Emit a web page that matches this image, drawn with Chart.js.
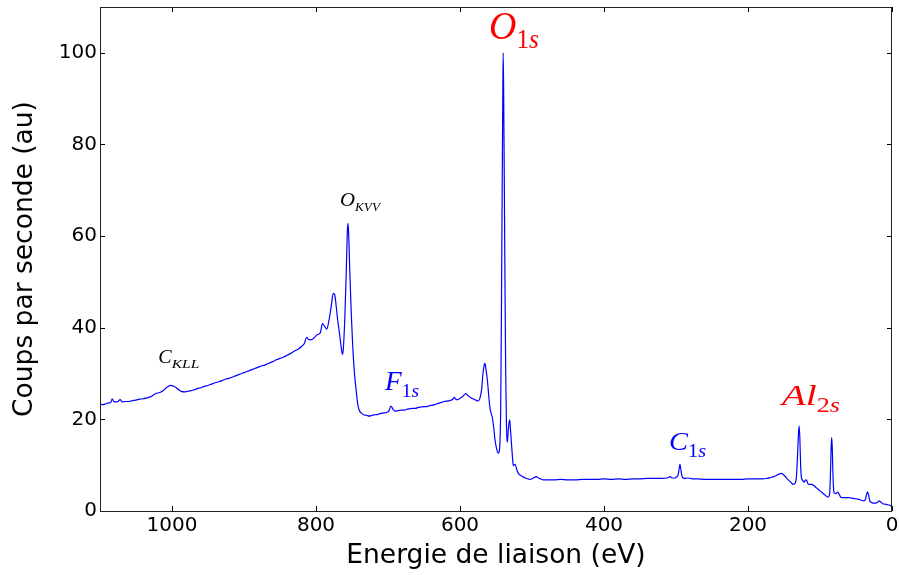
<!DOCTYPE html>
<html><head><meta charset="utf-8">
<script src="https://cdn.jsdelivr.net/npm/chart.js@4.4.0/dist/chart.umd.min.js"></script>
<style>html,body{margin:0;padding:0;background:#fff;overflow:hidden;} #wrap{width:899px;height:575px;}</style>
</head><body><div id="wrap"><canvas id="c" width="899" height="575"></canvas></div>
<script>
// Binding energy (eV) and counts per second (au)
const energy = [1100,1096,1092,1088,1085,1083,1081,1078,1075,1072,1069,1065,1060,1055,1050,1045,1040,1035,1030,1026,1022,1018,1014,1010,1006,1002,999,995,991,987,983,979,975,970,965,960,955,950,945,940,935,930,925,920,915,910,905,900,895,890,885,880,875,870,865,860,855,850,845,840,835,830,825,820,816,813,810,806,802,798,794,791,788,785,782,779,776,774,772,770,768,766,764,763,762,760,758,756.5,755.5,754.5,753,751,749,747.5,746,744,742,740,737,734,730,726,722,718,714,710,706,702,698.5,696,693,690,686,682,678,674,670,666,662,658,654,650,646,642,638,634,630,626,622,618,614,610,608,606,603,600,596,592,589,586,582,578,575,572,570,568.5,566.5,565.3,564,562,560,558.3,555,553,551.4,549,547,545.5,544.5,543.5,542.5,541.5,540.5,540,539.3,538.3,537.3,536.5,535.5,534.5,533.8,532.5,531,530,528.2,527,526,524.5,523.5,521,519,515,512,507,503,499,496,494,491,488,484,478,470,460,450,440,430,420,410,400,390,380,370,360,350,340,330,320,312,308,305,302,299,297.5,296,294.5,293,291.5,288,284,280,276,270,260,250,240,230,220,210,200,190,180,174,169,164,160,156,153,150,147,144,140,137.5,135,133,131.5,130,129,128,127,126,124.5,122,120,118.5,117,115,112,109,106,103,100,97,94,91,88.5,86.5,85.5,84.5,83.8,83,82,81,80,78,75.5,73.5,71,68,64,60,56,52,48,45,42,39,37,35.5,34,32.5,31,29,26,23,20,18,16,13,10,7,4,1];
const counts = [23.3,23.2,23.4,23.6,23.7,24.5,23.9,23.8,23.9,24.3,23.8,23.9,23.9,24.1,24.2,24.4,24.5,24.7,24.9,25.3,25.7,25.8,26.1,26.6,27.1,27.4,27.3,27.0,26.5,26.1,26.0,26.1,26.2,26.4,26.7,26.9,27.2,27.4,27.7,28.0,28.2,28.5,28.8,29.0,29.3,29.6,29.9,30.2,30.5,30.8,31.1,31.4,31.7,31.9,32.3,32.6,33.0,33.3,33.6,34.0,34.4,34.9,35.3,35.9,36.6,37.9,37.4,37.4,37.9,38.5,38.9,40.9,40.3,39.7,41.6,44.5,47.5,47.2,44.8,41.8,39.5,37.0,34.6,34.2,35.5,42,52,61,62.8,60,52,43,36,32,29,26,23.3,22.0,21.4,21.0,20.9,20.7,20.9,21.0,21.1,21.3,21.4,21.5,21.9,22.9,22.2,21.8,21.9,22.0,22.0,22.2,22.3,22.4,22.4,22.6,22.7,22.8,22.8,23.0,23.1,23.3,23.5,23.7,23.9,24.0,24.1,24.4,24.8,24.4,24.3,24.6,25.0,25.6,25.2,24.8,24.5,24.2,24.0,24.8,26.5,29.4,31.8,32.2,31,28.6,25,22.4,20.3,18.0,15.5,13.5,12.6,13.0,15,22,42,68,92,100,90,68,45,30,19,15.0,15.8,18.5,19.9,18.0,14.0,11.5,9.9,10.1,10.2,9.0,8.2,7.7,7.4,7.1,6.9,7.1,7.4,7.5,7.2,7.0,6.8,6.8,6.8,6.9,6.8,6.8,6.9,6.9,6.9,7.0,6.9,7.0,6.9,7.0,7.0,7.1,7.1,7.1,7.2,7.5,7.2,7.2,7.5,7.7,8.8,10.2,8.8,7.5,7.1,7.2,7.1,7.0,7.0,6.9,6.9,6.9,6.9,6.9,6.9,7.0,7.0,7.0,7.1,7.3,7.5,7.8,8.1,8.2,7.8,7.3,6.8,6.2,5.8,6.0,7.0,11,16.5,18.6,16,10.5,7.5,6.8,6.3,6.8,6.7,6.0,5.8,5.8,5.6,5.2,4.8,4.4,4.0,3.6,3.2,3.0,4.0,8,14,16.0,14,8,4.5,3.9,3.8,4.1,3.7,3.0,2.9,2.9,2.9,2.8,2.7,2.6,2.5,2.3,2.2,2.5,3.5,4.2,3.5,2.3,1.9,1.7,1.7,1.9,2.2,2.0,1.6,1.5,1.4,1.3,1.1];
const xTicks = [0,200,400,600,800,1000];
const yTicks = [0,20,40,60,80,100];
// Peak annotations
const labelMain = ['C','O','F','O','C','Al'];
const labelSub  = ['KLL','KVV','1s','1s','1s','2s'];
const labelColor = ['#000000','#000000','#0000ff','#ff0000','#0000ff','#ff0000'];
const labelSize = [18,18,27,39,26,30];
const labelE = [1019,766.7,704,559.7,309.7,153.2];
const labelC = [32.3,66.5,26.4,103.1,13.3,23.2];
const labelMainW = [13.4,15,16.7,27.4,19,35];
const labelSubW = [27.6,25,17.3,22.6,18,23.3];

const annot = {
  id:'annot',
  afterDraw(chart){
    const ctx = chart.ctx, {left,right,top,bottom} = chart.chartArea;
    const xs = chart.scales.x, ys = chart.scales.y;
    ctx.save();
    ctx.strokeStyle = '#000'; ctx.lineWidth = 1;
    ctx.beginPath();
    xTicks.forEach(v=>{
      const p = Math.round(xs.getPixelForValue(v))+0.5;
      ctx.moveTo(p,bottom); ctx.lineTo(p,bottom-5);
      ctx.moveTo(p,top); ctx.lineTo(p,top+5);
    });
    yTicks.forEach(v=>{
      const p = Math.round(ys.getPixelForValue(v))+0.5;
      ctx.moveTo(left,p); ctx.lineTo(left+5,p);
      ctx.moveTo(right,p); ctx.lineTo(right-5,p);
    });
    ctx.stroke();
    ctx.strokeStyle = '#222';
    ctx.strokeRect(Math.round(left)+0.5, Math.round(top)+0.5, Math.round(right-left)-1, Math.round(bottom-top));
    // labels
    ctx.textBaseline = 'alphabetic'; ctx.textAlign = 'left';
    labelMain.forEach((t,i)=>{
      const x0 = xs.getPixelForValue(labelE[i]);
      const y = ys.getPixelForValue(labelC[i]);
      const fs = labelSize[i];
      ctx.fillStyle = labelColor[i];
      ctx.font = `italic ${fs}px "Liberation Serif"`;
      const mw = ctx.measureText(t).width;
      ctx.save(); ctx.translate(x0, y); ctx.scale(labelMainW[i]/mw, 1); ctx.fillText(t, 0, 0); ctx.restore();
      const sfs = Math.round(fs*0.7);
      const sy = y + fs*0.25;
      const fontFor = ch => (/[0-9]/.test(ch) ? '' : 'italic ') + `${sfs}px "Liberation Serif"`;
      let sw = 0;
      for (const ch of labelSub[i]) { ctx.font = fontFor(ch); sw += ctx.measureText(ch).width; }
      const k = labelSubW[i]/sw;
      ctx.save(); ctx.translate(x0 + labelMainW[i], sy); ctx.scale(k, 1);
      let x = 0;
      for (const ch of labelSub[i]) {
        ctx.font = fontFor(ch);
        ctx.fillText(ch, x, 0);
        x += ctx.measureText(ch).width;
      }
      ctx.restore();
    });
    ctx.restore();
  }
};

new Chart(document.getElementById('c'), {
  type:'line',
  data:{datasets:[{
    data: energy.map((e,i)=>({x:e, y:counts[i]})),
    borderColor:'#0000ff', borderWidth:1.2, pointRadius:0, fill:false,
    cubicInterpolationMode:'monotone'
  }]},
  options:{
    responsive:false, animation:false, devicePixelRatio:1,
    layout:{padding:{top:7,right:7,left:0,bottom:0}},
    plugins:{legend:{display:false}, tooltip:{enabled:false}},
    scales:{
      x:{type:'linear', reverse:true, min:0, max:1100,
        afterBuildTicks:s=>{s.ticks = xTicks.map(v=>({value:v}));},
        afterFit:s=>{s.height=64; s.paddingLeft=0; s.paddingRight=0;},
        grid:{display:false, drawTicks:false}, border:{display:false},
        ticks:{color:'#000', font:{family:'DejaVu Sans', size:20}, padding:3, maxRotation:0, autoSkip:false, callback:v=>String(v)},
        title:{display:true, text:'Energie de liaison (eV)', color:'#000', font:{family:'DejaVu Sans', size:26.5}, padding:{top:0,bottom:3}}
      },
      y:{type:'linear', min:0, max:110,
        afterBuildTicks:s=>{s.ticks = yTicks.map(v=>({value:v}));},
        afterFit:s=>{s.width=100; s.paddingTop=0; s.paddingBottom=0;},
        grid:{display:false, drawTicks:false}, border:{display:false},
        ticks:{color:'#000', font:{family:'DejaVu Sans', size:20}, padding:3, autoSkip:false, callback:v=>String(v)},
        title:{display:true, text:'Coups par seconde (au)', color:'#000', font:{family:'DejaVu Sans', size:26.5}, padding:{top:9,bottom:0}}
      }
    }
  },
  plugins:[annot]
});
</script>
</body></html>
